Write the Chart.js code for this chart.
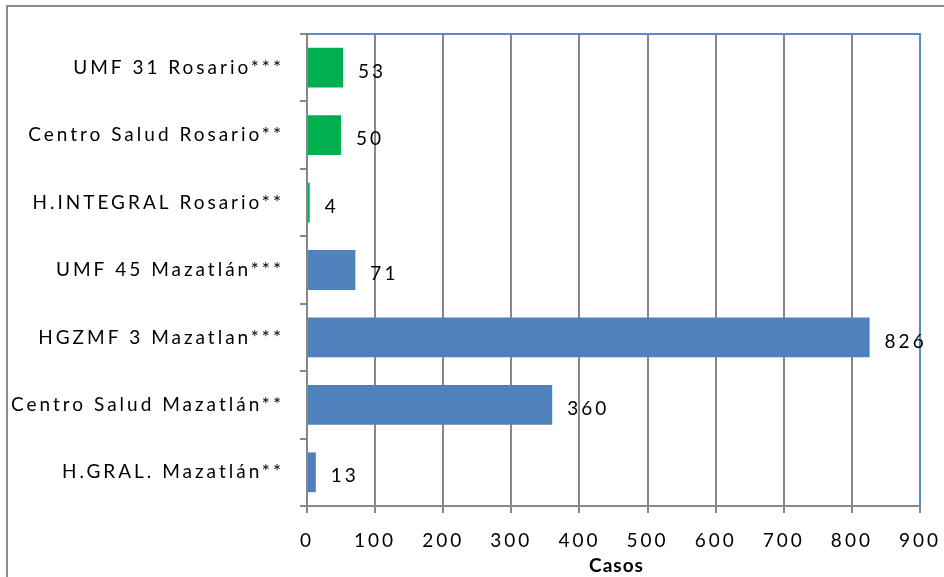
<!DOCTYPE html>
<html>
<head>
<meta charset="utf-8">
<script src="https://cdn.jsdelivr.net/npm/chart.js@4/dist/chart.umd.min.js"></script>
<style>
  html, body { margin: 0; padding: 0; background: #fff; }
  #wrap { width: 944px; height: 577px; position: relative; }
</style>
</head>
<body>
<div id="wrap"><canvas id="c" width="944" height="577"></canvas></div>
<script>
// Casos por unidad médica
const categories = [
  'UMF 31 Rosario***',
  'Centro Salud Rosario**',
  'H.INTEGRAL Rosario**',
  'UMF 45 Mazatlán***',
  'HGZMF 3 Mazatlan***',
  'Centro Salud Mazatlán**',
  'H.GRAL. Mazatlán**'
];
const casos = [53, 50, 4, 71, 826, 360, 13];
const barColors = ['#00B050', '#00B050', '#00B050', '#4F81BD', '#4F81BD', '#4F81BD', '#4F81BD'];
const xTicks = [0, 100, 200, 300, 400, 500, 600, 700, 800, 900];
const xTitle = 'Casos';

const FONT = 'Lato, "Open Sans", sans-serif';
const GRID = '#878787';
const SPACING = '3px';

// outer chart frame, plot-area top/right border, value labels and axis title
const decor = {
  id: 'decor',
  beforeLayout(chart) {
    chart.ctx.letterSpacing = SPACING;
  },
  beforeDraw(chart) {
    const ctx = chart.ctx;
    ctx.save();
    ctx.fillStyle = '#fff';
    ctx.fillRect(0, 0, chart.width, chart.height);
    ctx.strokeStyle = '#8c8c8c';
    ctx.lineWidth = 2;
    ctx.strokeRect(7, 6, chart.width + 20, chart.height + 20);
    ctx.restore();
    ctx.letterSpacing = SPACING;
  },
  afterDraw(chart) {
    const ctx = chart.ctx;
    const a = chart.chartArea;
    ctx.save();
    ctx.strokeStyle = '#5B8ACB';
    ctx.lineWidth = 2;
    ctx.beginPath();
    ctx.moveTo(a.left, a.top);
    ctx.lineTo(a.right, a.top);
    ctx.lineTo(a.right, a.bottom);
    ctx.stroke();

    const meta = chart.getDatasetMeta(0);
    ctx.fillStyle = '#000';
    ctx.letterSpacing = SPACING;
    ctx.font = '19px ' + FONT;
    ctx.textAlign = 'left';
    ctx.textBaseline = 'middle';
    meta.data.forEach((bar, i) => {
      ctx.fillText(String(casos[i]), bar.x + 15, bar.y + 4);
    });

    ctx.letterSpacing = '1px';
    ctx.font = 'bold 19px ' + FONT;
    ctx.textAlign = 'center';
    ctx.fillText(xTitle, (a.left + a.right) / 2 + 3, 566);
    ctx.restore();
  }
};

new Chart(document.getElementById('c'), {
  type: 'bar',
  data: {
    labels: categories,
    datasets: [{
      data: casos,
      backgroundColor: barColors,
      borderWidth: 0,
      categoryPercentage: 1,
      barPercentage: 0.59
    }]
  },
  options: {
    indexAxis: 'y',
    responsive: false,
    animation: false,
    events: [],
    layout: { padding: { top: 34, right: 24, left: 0, bottom: 0 } },
    plugins: {
      legend: { display: false },
      tooltip: { enabled: false }
    },
    scales: {
      x: {
        min: 0,
        max: 900,
        afterBuildTicks(scale) { scale.ticks = xTicks.map(v => ({ value: v })); },
        afterFit(scale) {
          scale.height = 71;
          scale.paddingLeft = 0;
          scale.paddingRight = 0;
        },
        grid: { color: GRID, lineWidth: 2, tickLength: 7, drawTicks: true },
        border: { color: GRID, width: 2 },
        ticks: { color: '#000', font: { family: FONT, size: 19 }, padding: 16, maxRotation: 0 }
      },
      y: {
        afterFit(scale) {
          scale.width = 307;
          scale.paddingTop = 0;
          scale.paddingBottom = 0;
        },
        grid: { drawOnChartArea: false, drawTicks: true, tickLength: 7, color: GRID, lineWidth: 2, offset: true },
        border: { color: GRID, width: 2 },
        ticks: { color: '#000', font: { family: FONT, size: 19 }, padding: 16 }
      }
    }
  },
  plugins: [decor]
});
</script>
</body>
</html>
